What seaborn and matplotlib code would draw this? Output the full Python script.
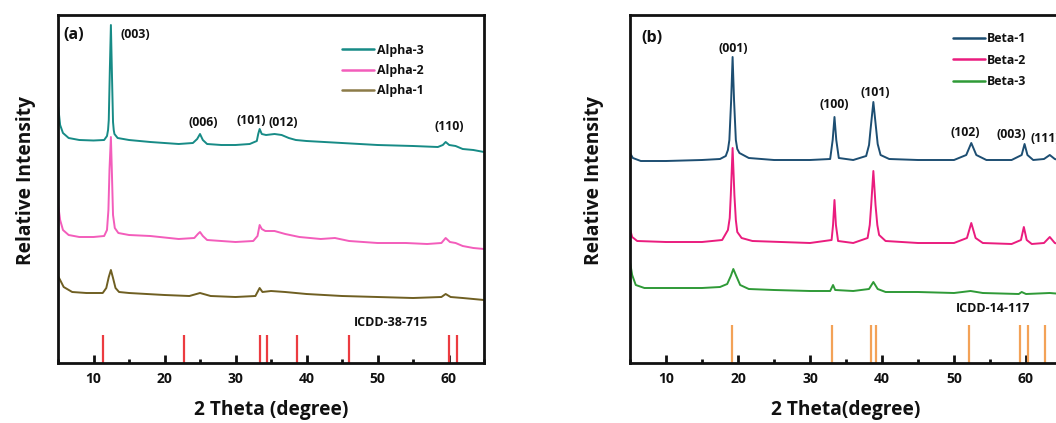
import numpy as np
import pandas as pd
import matplotlib
matplotlib.use("Agg")
import matplotlib.pyplot as plt
import seaborn as sns

# ---------------- data: 2-theta (deg) and stacked intensity (a.u.) ----------------
alpha3_x = [5.0, 5.3, 5.7, 6.5, 8.0, 10.0, 11.5, 11.9, 12.05, 12.15, 12.3, 12.45, 12.6, 12.75, 12.85,
            12.95, 13.4, 15.0, 18.0, 22.0, 24.0, 24.6, 25.0, 25.4, 26.0, 28.0, 30.0, 32.0, 33.0, 33.2,
            33.4, 33.7, 34.3, 35.5, 36.5, 37.5, 38.5, 40.0, 45.0, 50.0, 55.0, 58.5, 59.2, 59.6, 60.1,
            61.0, 62.0, 63.5, 65.0]
alpha3_y = [258, 238, 230, 225, 223, 222.5, 223, 227, 233, 243, 293, 338, 288, 241, 233,
            229, 225, 223, 221, 219, 220, 224, 229, 223, 219, 218, 218, 219, 222, 229,
            234, 229, 228, 229, 228, 225, 223, 222, 220, 218, 217, 216, 218, 221, 218,
            217, 214, 213, 211]

alpha2_x = [5.0, 5.3, 5.7, 6.5, 8.0, 10.0, 11.5, 11.9, 12.1, 12.25, 12.45, 12.6, 12.75, 13.0, 13.5,
            15.0, 18.0, 22.0, 24.2, 24.7, 25.0, 25.4, 26.0, 28.0, 30.0, 32.5, 33.1, 33.4, 33.7, 34.2,
            35.5, 37.0, 39.0, 42.0, 44.0, 46.0, 50.0, 54.0, 57.0, 59.0, 59.6, 60.2, 61.0, 62.0, 63.5,
            65.0]
alpha2_y = [159, 143, 133, 128, 126, 126, 127, 133, 153, 193, 226, 188, 148, 135, 130,
            128, 127, 124, 125, 129, 131, 127, 123, 122, 121, 122, 127, 138, 134, 132,
            132, 129, 126, 124, 125, 122, 120, 120, 119, 120, 125, 121, 120, 117, 115,
            114]

alpha1_x = [5.0, 5.3, 5.8, 7.0, 9.0, 11.3, 11.8, 12.15, 12.45, 12.75, 13.1, 13.6, 15.0, 20.0, 23.5,
            25.0, 26.5, 30.0, 32.8, 33.4, 33.8, 35.0, 37.0, 40.0, 45.0, 50.0, 55.0, 59.0, 59.6, 60.3,
            62.0, 65.0]
alpha1_y = [87, 83, 76, 71, 70, 70, 75, 86, 93, 85, 75, 71, 70, 68, 67,
            70, 67, 66, 67, 75, 71, 72, 71, 69, 67, 66, 65, 66, 69, 66,
            65, 63]

beta1_x = [5.0, 5.4, 6.5, 10.0, 15.0, 17.5, 18.3, 18.6, 18.8, 19.05, 19.25, 19.45, 19.7, 19.9, 20.2,
           21.5, 25.0, 30.0, 32.8, 33.15, 33.4, 33.65, 34.0, 36.0, 37.8, 38.2, 38.4, 38.8, 39.2, 39.4,
           39.8, 41.0, 45.0, 50.0, 51.7, 52.4, 53.1, 54.5, 58.0, 59.4, 59.8, 60.2, 61.0, 62.5, 63.3,
           64.0, 65.0]
beta1_y = [210, 205, 202, 202, 203, 204, 207, 213, 223, 263, 306, 263, 223, 214, 210,
           205, 203, 203, 204, 223, 246, 223, 205, 203, 207, 218, 233, 261, 233, 219,
           208, 204, 203, 203, 208, 220, 208, 203, 203, 208, 219, 208, 203, 204, 208,
           204, 202]

beta2_x = [5.0, 5.3, 6.0, 10.0, 15.0, 17.8, 18.6, 18.85, 19.0, 19.25, 19.5, 19.7, 19.9, 20.5, 22.0,
           30.0, 33.0, 33.2, 33.4, 33.6, 33.9, 36.0, 38.0, 38.3, 38.5, 38.8, 39.1, 39.35, 39.6, 40.5,
           45.0, 50.0, 51.8, 52.4, 53.0, 54.0, 58.0, 59.3, 59.7, 60.1, 60.8, 62.5, 63.3, 64.0, 65.0]
beta2_y = [134, 126, 122, 121, 121, 123, 133, 145, 168, 215, 168, 143, 131, 125, 122,
           120, 123, 138, 163, 138, 122, 120, 125, 138, 158, 192, 158, 138, 128, 122,
           120, 120, 125, 140, 125, 120, 119, 123, 136, 123, 119, 120, 126, 120, 118]

beta3_x = [5.0, 5.3, 5.8, 7.0, 10.0, 15.0, 17.5, 18.5, 19.0, 19.35, 19.7, 20.3, 21.5, 25.0, 30.0,
           32.8, 33.2, 33.5, 36.0, 38.2, 38.8, 39.4, 40.5, 45.0, 50.0, 52.3, 54.0, 59.0, 59.4, 60.0,
           63.3, 65.0]
beta3_y = [101, 88, 78, 75, 75, 75, 76, 79, 87, 94, 88, 78, 74, 73, 72,
           72, 78, 73, 72, 74, 81, 74, 71, 71, 70, 72, 70, 69, 71, 69,
           70, 69]

# reference patterns (stick positions, deg) and stick heights (a.u.)
icdd_38_715 = [11.3, 22.7, 33.4, 34.4, 38.7, 46.0, 60.0, 61.2]
icdd_14_117 = [19.2, 33.1, 38.5, 39.1, 52.1, 59.1, 60.3, 62.7]
stick_height_a = 28
stick_height_b = 38

# peak indices: label, 2-theta, height
hkl_a = [("(003)", 15.9, 329), ("(006)", 25.4, 241), ("(101)", 32.2, 243),
         ("(012)", 36.7, 240), ("(110)", 60.1, 236)]
hkl_b = [("(001)", 19.3, 315), ("(100)", 33.3, 259), ("(101)", 39.0, 270),
         ("(102)", 51.5, 231), ("(003)", 57.9, 229), ("(111)", 62.7, 225)]

tick_values = [10, 20, 30, 40, 50, 60]
tick_labels = ["10", "20", "30", "40", "50", "60"]

# ---------------- styling ----------------
sns.set_theme(style="white")
plt.rcParams["font.family"] = ["Open Sans", "DejaVu Sans"]
plt.rcParams["font.weight"] = "bold"

W, H = 1056, 423
fig = plt.figure(figsize=(W / 100, H / 100), dpi=100)

def frame(px_left, px_right, px_top, px_bottom):
    return [px_left / W, 1 - px_bottom / H, (px_right - px_left) / W, (px_bottom - px_top) / H]

ax_a = fig.add_axes(frame(58, 484, 15, 363))
ax_b = fig.add_axes(frame(630, 1062, 15, 363))

INK = "#111111"

def draw_panel(ax, series, sticks, stick_h, stick_color, hkl, tag, tag_xy,
               ref_name, ref_xy, xlabel, leg_anchor, leg_spacing, ylab_x):
    for xs, ys, name, col in series:
        df = pd.DataFrame({"theta": xs, "intensity": ys})
        sns.lineplot(data=df, x="theta", y="intensity", ax=ax, color=col,
                     linewidth=1.4, label=name, sort=True, estimator=None)
    ax.vlines(sticks, 0, stick_h, colors=stick_color, linewidth=1.6)
    for lab, xx, yy in hkl:
        ax.text(xx, yy, lab, ha="center", va="center", fontsize=8.8,
                fontweight="bold", color=INK)
    ax.text(tag_xy[0], tag_xy[1], tag, ha="center", va="center", fontsize=11.5,
            fontweight="bold", color=INK)
    ax.text(ref_xy[0], ref_xy[1], ref_name, ha="center", va="center", fontsize=9,
            fontweight="bold", color=INK)

    ax.set_xlim(5, 65)
    ax.set_ylim(0, 348)
    ax.set_xticks(tick_values)
    ax.set_xticklabels(tick_labels, fontsize=10, fontweight="bold", color=INK)
    ax.set_xticks([5, 15, 25, 35, 45, 55, 65], minor=True)
    ax.set_yticks([])
    ax.tick_params(axis="x", which="major", direction="in", length=6, width=2,
                   color=INK, pad=6.5, bottom=True)
    ax.tick_params(axis="x", which="minor", direction="in", length=3, width=2,
                   color=INK, bottom=True)
    for sp in ax.spines.values():
        sp.set_linewidth(2)
        sp.set_color(INK)
        sp.set_visible(True)

    ax.set_xlabel(xlabel, fontsize=13.8, fontweight="bold", color=INK)
    ax.xaxis.set_label_coords(0.5, -0.106)
    ax.set_ylabel("Relative Intensity", fontsize=13.8, fontweight="bold", color=INK)
    ax.yaxis.set_label_coords(ylab_x, 0.525)

    handles, labels = ax.get_legend_handles_labels()
    leg = ax.legend(handles, labels, loc="upper left", bbox_to_anchor=leg_anchor,
                    frameon=False, handlelength=2.6, handletextpad=0.2,
                    borderpad=0, borderaxespad=0, labelspacing=leg_spacing,
                    prop={"weight": "bold", "size": 8.9})
    for t in leg.get_texts():
        t.set_color(INK)
    for ln in leg.get_lines():
        ln.set_linewidth(1.8)
    return leg

draw_panel(
    ax_a,
    [(alpha3_x, alpha3_y, "Alpha-3", "#178b86"),
     (alpha2_x, alpha2_y, "Alpha-2", "#f35dbb"),
     (alpha1_x, alpha1_y, "Alpha-1", "#6f5f22")],
    icdd_38_715, stick_height_a, "#ec3b40", hkl_a,
    "(a)", (7.2, 328), "ICDD-38-715", (51.9, 41),
    "2 Theta (degree)", (0.667, 0.918), 0.6, -0.052,
)
leg_b = draw_panel(
    ax_b,
    [(beta1_x, beta1_y, "Beta-1", "#1d4e72"),
     (beta2_x, beta2_y, "Beta-2", "#ea1c7e"),
     (beta3_x, beta3_y, "Beta-3", "#2f9a37")],
    icdd_14_117, stick_height_b, "#f3a257", hkl_b,
    "(b)", (8.05, 325), "ICDD-14-117", (55.45, 55),
    "2 Theta(degree)", (0.747, 0.95), 0.68, -0.06,
)
# the Alpha-1 key line is drawn in a lighter olive
ax_a.get_legend().get_lines()[2].set_color("#8c7b48")

fig.savefig("out.png", dpi=100)
